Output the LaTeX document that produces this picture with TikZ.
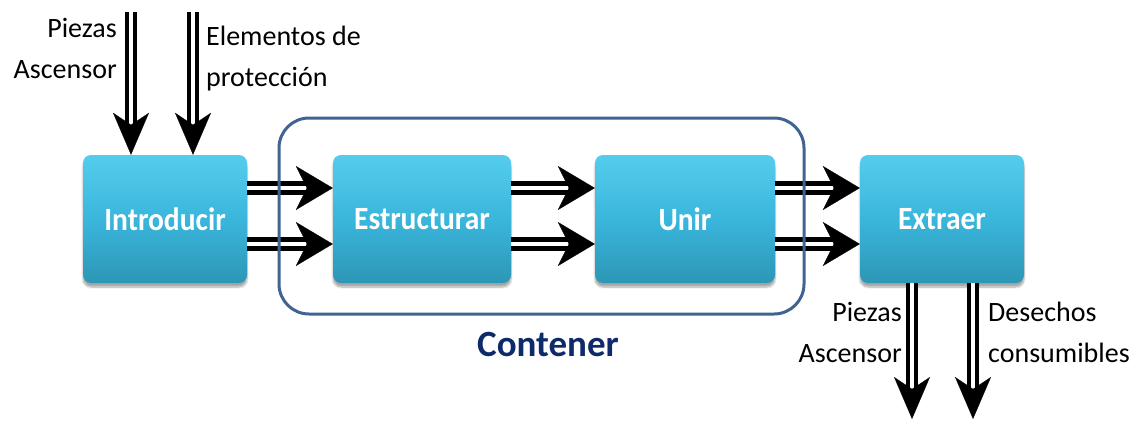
\documentclass[tikz,border=0pt]{standalone}
\usepackage{fontspec}
\setmainfont{Carlito}
\usetikzlibrary{arrows.meta,shadows.blur}
\definecolor{boxtop}{HTML}{55CCEC}
\definecolor{boxmid}{HTML}{3AB6DC}
\definecolor{boxbot}{HTML}{2D96B6}
\definecolor{framecol}{HTML}{3F6491}
\definecolor{navy}{HTML}{0E2A6A}
% slightly tall lettering for the step labels
\newcommand{\steptext}[1]{\scalebox{1}[1.1]{#1}}

\begin{document}
\begin{tikzpicture}[x=1pt,y=-1pt,
  stepbox/.style={rectangle, rounded corners=8pt, minimum height=128pt,
    top color=boxtop, bottom color=boxbot, middle color=boxmid, draw=none,
    blur shadow={shadow xshift=0pt, shadow yshift=-4pt, shadow blur steps=6, shadow opacity=35},
    font=\fontsize{29.5}{36}\selectfont\bfseries, text=white},
  flowh/.style={draw=white, line width=0.2pt,
    -{Stealth[length=37pt,width=44pt,inset=11pt,color=black,fill=black]},
    preaction={draw=black, double=white, double distance=4pt, line width=4.8pt, -, shorten >=20pt}},
  flowv/.style={draw=white, line width=0.2pt,
    -{Stealth[length=42pt,width=36pt,inset=12pt,color=black,fill=black]},
    preaction={draw=black, double=white, double distance=3.6pt, line width=3.8pt, -, shorten >=22pt}},
  lbl/.style={font=\fontsize{28}{41}\selectfont, inner sep=0pt},
]
\useasboundingbox (0,0) rectangle (1139,420);

% process steps
\node[stepbox, minimum width=164pt] (intro) at (165,219) {\steptext{Introducir}};
\node[stepbox, minimum width=178pt] (estr)  at (422,219) {\steptext{Estructurar}};
\node[stepbox, minimum width=180pt] (unir)  at (685,219) {\steptext{Unir}};
\node[stepbox, minimum width=164pt] (extr)  at (942,219) {\steptext{Extraer}};

% flows between steps
\foreach \a/\b in {intro/estr, estr/unir, unir/extr} {
  \draw[flowh] ([yshift=31pt]\a.east) -- ([yshift=31pt]\b.west);
  \draw[flowh] ([yshift=-25pt]\a.east) -- ([yshift=-25pt]\b.west);
}

% inputs
\coordinate (inA) at (131,12);
\coordinate (inB) at (193,12);
\draw[flowv] (inA) -- (inA |- intro.north);
\draw[flowv] (inB) -- (inB |- intro.north);
\node[lbl, align=right, anchor=base east] (lblA) at (117,78) {Piezas\\Ascensor};
\node[lbl, align=left, anchor=base west] (lblB) at (206,86) {Elementos de\\protección};

% outputs
\coordinate (outA) at (912,419);
\coordinate (outB) at (973,419);
\draw[flowv] (extr.south -| outA) -- (outA);
\draw[flowv] (extr.south -| outB) -- (outB);
\node[lbl, align=right, anchor=base east] (lblC) at (902,362) {Piezas\\Ascensor};
\node[lbl, align=left, anchor=base west] (lblD) at (988,362) {Desechos\\consumibles};

% grouping frame
\node[draw=framecol, line width=3pt, rounded corners=30pt,
      minimum width=525pt, minimum height=196pt] (cont) at (541.5,216) {};
\node[font=\fontsize{37}{44}\selectfont\bfseries, text=navy, anchor=base] (contlbl) at (548,356) {Contener};
\end{tikzpicture}
\end{document}
